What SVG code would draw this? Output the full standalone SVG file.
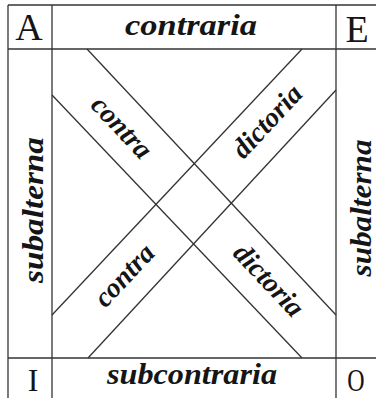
<svg xmlns="http://www.w3.org/2000/svg" width="376" height="398" viewBox="0 0 376 398">
<style>
.ln{stroke:#333;stroke-width:1.3;fill:none}
.it{font-family:"Liberation Serif","DejaVu Serif",serif;font-style:italic;font-weight:bold;fill:#151515}
.cap{font-family:"Liberation Serif","DejaVu Serif",serif;fill:#151515;text-anchor:middle}
</style>
<rect width="376" height="398" fill="#fff"/>
<g id="frame" class="ln">
<line x1="8" y1="5" x2="8" y2="398"/>
<line x1="52" y1="5" x2="52" y2="398"/>
<line x1="336" y1="5" x2="336" y2="398"/>
<line x1="8" y1="5" x2="376" y2="5"/>
<line x1="8" y1="49" x2="376" y2="49"/>
<line x1="8" y1="358" x2="376" y2="358"/>
</g>
<g id="A"><text class="cap" x="29" y="40" font-size="38">A</text></g>
<g id="E"><text class="cap" x="357" y="42" font-size="38">E</text></g>
<g id="I"><text class="cap" x="33" y="391" font-size="32">I</text></g>
<g id="O"><text class="cap" x="0" y="0" font-size="32" transform="translate(356,391) scale(0.75,1)">O</text></g>
<g id="contraria"><text class="it" x="191" y="35" font-size="30" text-anchor="middle" textLength="132" lengthAdjust="spacingAndGlyphs">contraria</text></g>
<g id="subcontraria"><text class="it" x="192" y="384" font-size="30" text-anchor="middle" textLength="170" lengthAdjust="spacingAndGlyphs">subcontraria</text></g>
<g id="subalterna-left"><text class="it" font-size="30" text-anchor="middle" textLength="146" lengthAdjust="spacingAndGlyphs" transform="translate(43,210) rotate(-90)">subalterna</text></g>
<g id="subalterna-right"><text class="it" font-size="30" text-anchor="middle" textLength="137" lengthAdjust="spacingAndGlyphs" transform="translate(371,208) rotate(-90)">subalterna</text></g>
<g id="connectors">
<g class="ln">
<line x1="87" y1="49" x2="336" y2="315"/>
<line x1="52" y1="95" x2="302" y2="358"/>
<line x1="302" y1="49" x2="52" y2="315"/>
<line x1="336" y1="90" x2="88" y2="358"/>
</g>
<text class="it" font-size="28" text-anchor="middle" transform="translate(121,128) rotate(46.6) translate(0,8)">contra</text>
<text class="it" font-size="28" text-anchor="middle" transform="translate(268,122) rotate(-47) translate(0,8)">dictoria</text>
<text class="it" font-size="28" text-anchor="middle" transform="translate(125,276) rotate(-47) translate(0,8)">contra</text>
<text class="it" font-size="28" text-anchor="middle" transform="translate(268,281) rotate(46.6) translate(0,8)">dictoria</text>
</g>
</svg>
